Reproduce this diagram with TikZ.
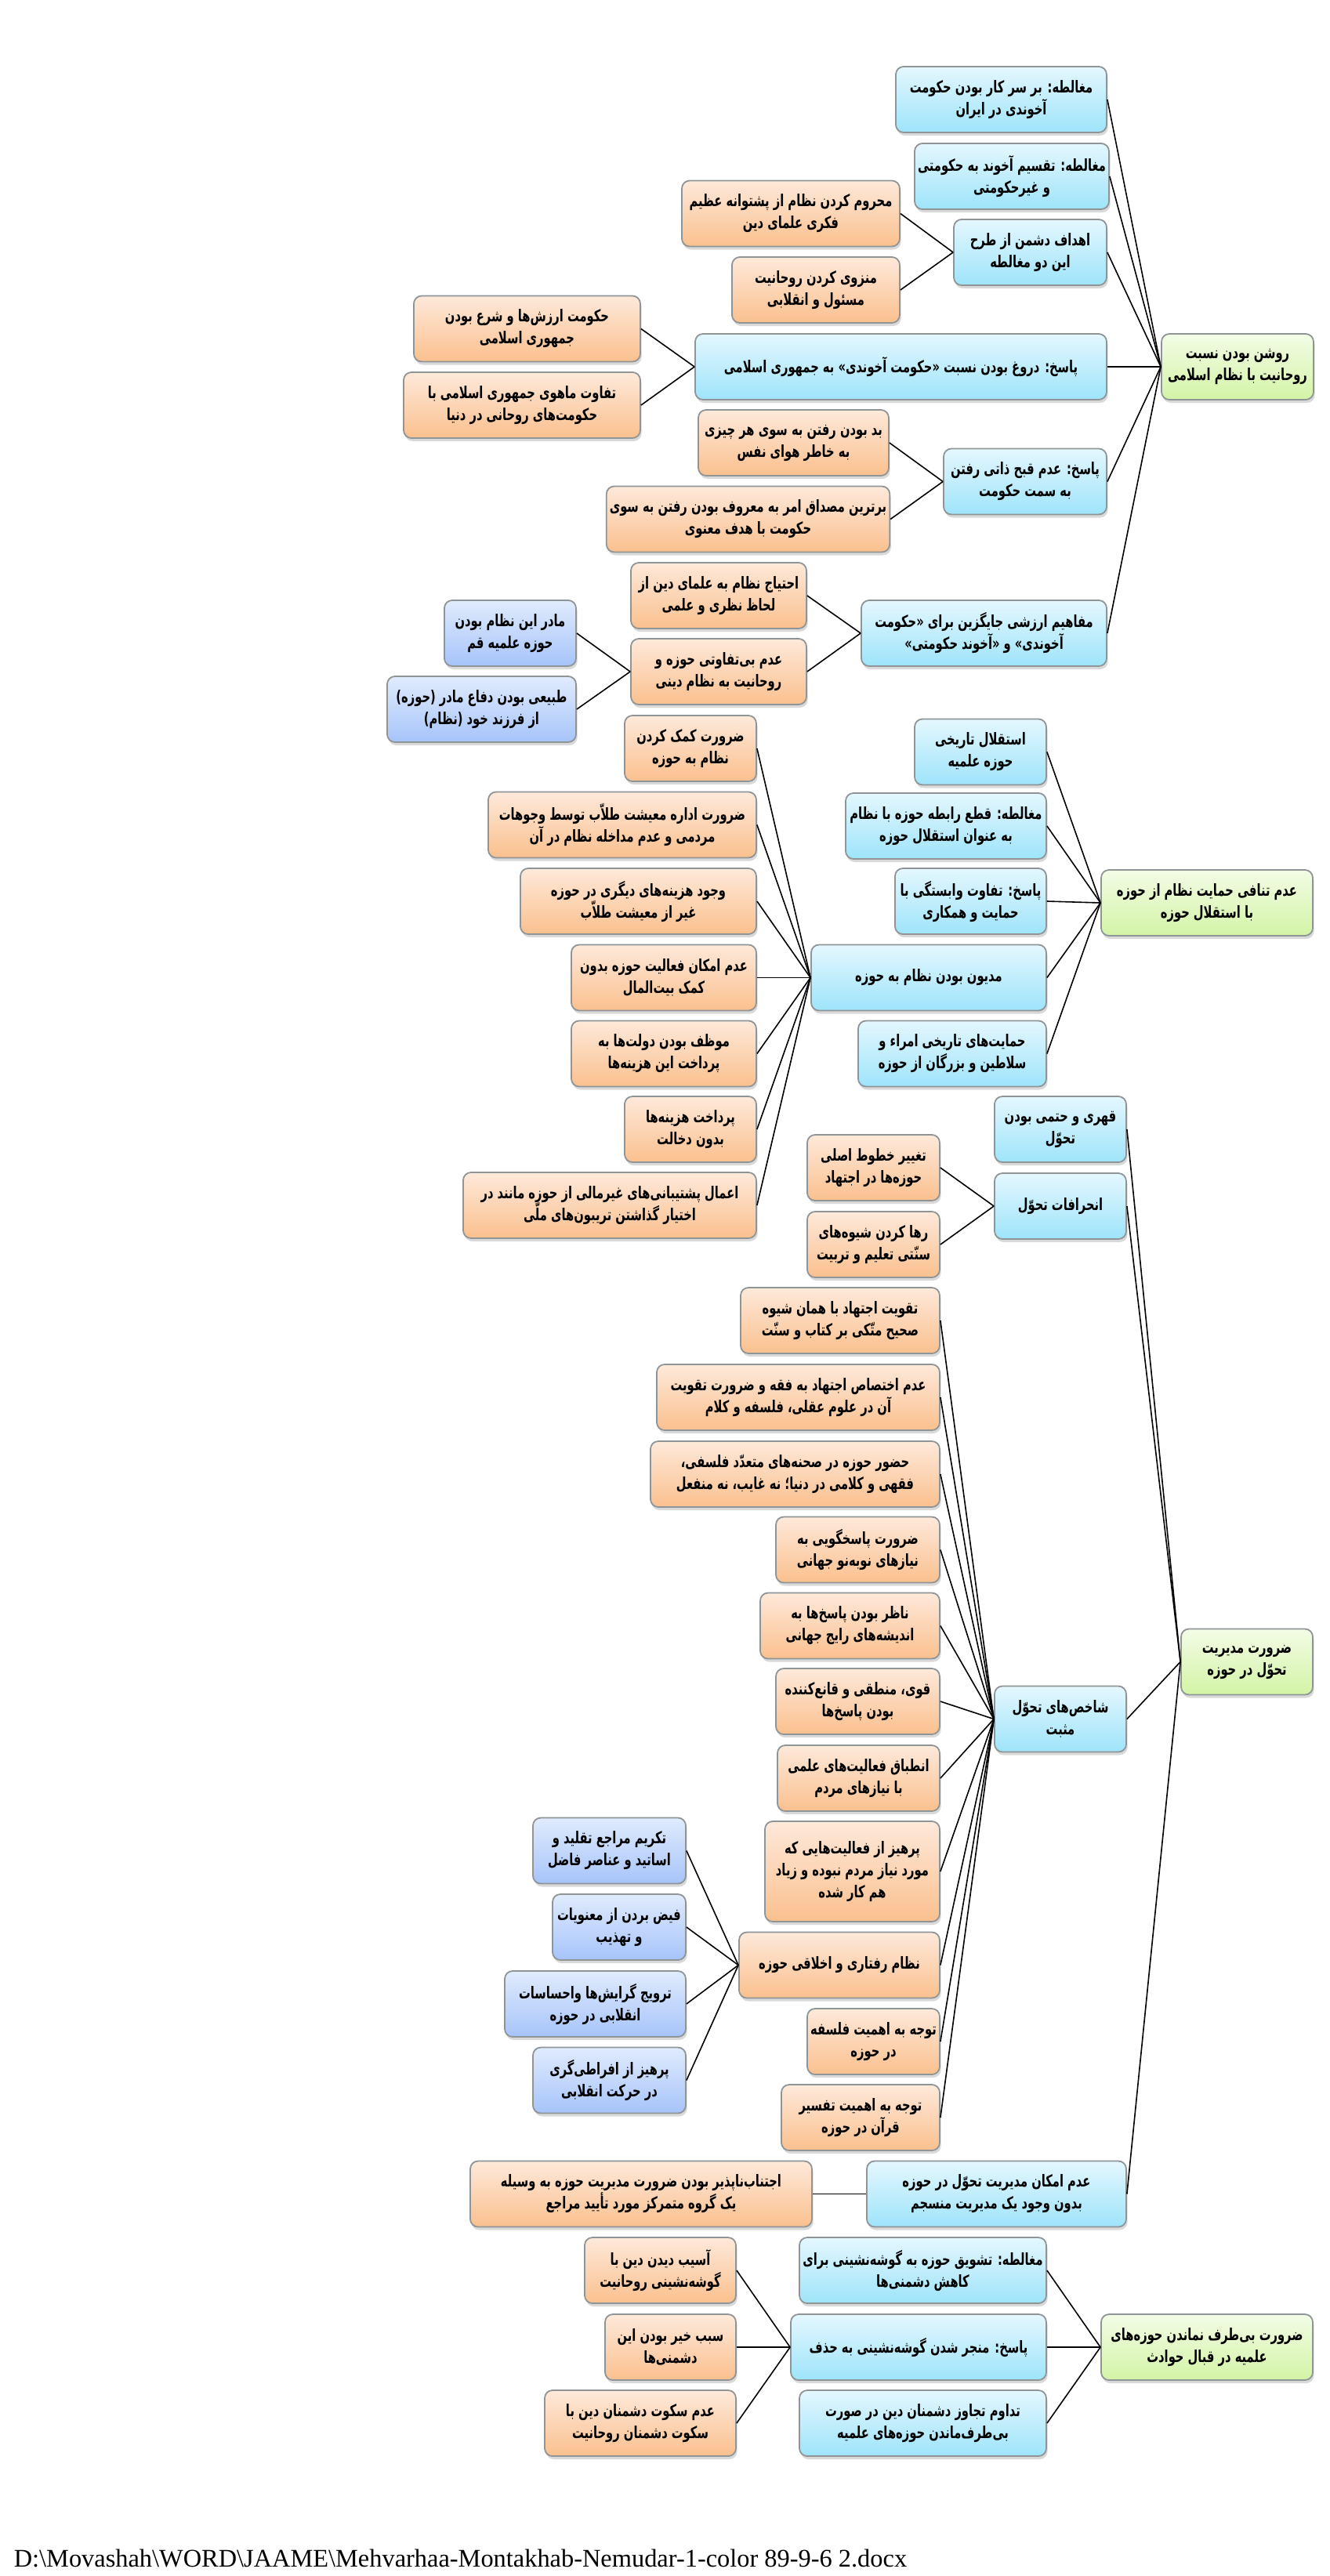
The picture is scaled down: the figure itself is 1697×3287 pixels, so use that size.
\documentclass[tikz,border=0pt]{standalone}
\usepackage{fontspec}
\setmainfont{Liberation Serif}
\newfontfamily\farsi[Script=Arabic,FakeStretch=0.7]{DejaVu Sans}
\TeXXeTstate=1
\usetikzlibrary{shadows}
\definecolor{cyantop}{HTML}{E4F7FE}
\definecolor{cyanbot}{HTML}{9EE4FA}
\definecolor{peachtop}{HTML}{FEE9DA}
\definecolor{peachbot}{HTML}{FAC08E}
\definecolor{limetop}{HTML}{F3FCE6}
\definecolor{limebot}{HTML}{D3F4A6}
\definecolor{lilactop}{HTML}{E0EBFD}
\definecolor{lilacbot}{HTML}{A6C4FA}
\definecolor{frame}{HTML}{8F9497}
\newcommand\fa[1]{\beginR#1\endR}

\begin{document}
\begin{tikzpicture}[x=0.5pt,y=-0.5pt,line width=0.8pt]
      \tikzstyle{box}=[draw=frame,line width=0.9pt,rounded corners=5pt,align=center,inner sep=2pt,minimum height=42pt,
        font=\farsi\bfseries\fontsize{10.5pt}{14pt}\selectfont,
        drop shadow={shadow xshift=0.8pt,shadow yshift=-2pt,opacity=0.3}]
      \tikzstyle{cyan box}=[box,top color=cyantop,bottom color=cyanbot]
      \tikzstyle{peach box}=[box,top color=peachtop,bottom color=peachbot]
      \tikzstyle{lime box}=[box,top color=limetop,bottom color=limebot]
      \tikzstyle{lilac box}=[box,top color=lilactop,bottom color=lilacbot]
      \tikzstyle{link}=[draw=black,line width=0.8pt]

      \useasboundingbox (0,0) rectangle (1697,3287);

      % First group: the clergy and the Islamic system
      \node[lime box,minimum width=97pt] (R-1) at (1579,468) {\fa{روشن بودن نسبت}\\\fa{روحانیت با نظام اسلامی}};
      \node[cyan box,minimum width=134.5pt] (A-1) at (1277.5,127) {\fa{مغالطه: بر سر کار بودن حکومت}\\\fa{آخوندی در ایران}};
      \node[cyan box,minimum width=121pt] (A-2) at (1291,225) {\fa{مغالطه: تقسیم آخوند به حکومتی}\\\fa{و غیرحکومتی}};
      \node[cyan box,minimum width=97.5pt] (A-3) at (1314.5,322) {\fa{اهداف دشمن از طرح}\\\fa{این دو مغالطه}};
      \node[cyan box,minimum width=262.5pt] (A-4) at (1149.5,468) {\fa{پاسخ: دروغ بودن نسبت «حکومت آخوندی» به جمهوری اسلامی}};
      \node[cyan box,minimum width=104pt] (A-5) at (1308,614.5) {\fa{پاسخ: عدم قبح ذاتی رفتن}\\\fa{به سمت حکومت}};
      \node[cyan box,minimum width=156.5pt] (A-6) at (1255.5,808) {\fa{مفاهیم ارزشی جایگزین برای «حکومت}\\\fa{آخوندی» و «آخوند حکومتی»}};
      \node[peach box,minimum width=139pt] (A-3-1) at (1009,272.5) {\fa{محروم کردن نظام از پشتوانه عظیم}\\\fa{فکری علمای دین}};
      \node[peach box,minimum width=107pt] (A-3-2) at (1041,370) {\fa{منزوی کردن روحانیت}\\\fa{مسئول و انقلابی}};
      \node[peach box,minimum width=144.5pt] (A-4-1) at (672.5,419.5) {\fa{حکومت ارزش‌ها و شرع بودن}\\\fa{جمهوری اسلامی}};
      \node[peach box,minimum width=151pt] (A-4-2) at (666,517) {\fa{تفاوت ماهوی جمهوری اسلامی با}\\\fa{حکومت‌های روحانی در دنیا}};
      \node[peach box,minimum width=121.5pt] (A-5-1) at (1012.5,565) {\fa{بد بودن رفتن به سوی هر چیزی}\\\fa{به خاطر هوای نفس}};
      \node[peach box,minimum width=179.5pt] (A-5-2) at (954.5,662.5) {\fa{برترین مصداق امر به معروف بودن رفتن به سوی}\\\fa{حکومت با هدف معنوی}};
      \node[peach box,minimum width=112pt] (A-6-1) at (917,760) {\fa{احتیاج نظام به علمای دین از}\\\fa{لحاظ نظری و علمی}};
      \node[peach box,minimum width=112pt] (A-6-2) at (917,857) {\fa{عدم بی‌تفاوتی حوزه و}\\\fa{روحانیت به نظام دینی}};
      \node[lilac box,minimum width=84pt] (A-6-2-1) at (651,808) {\fa{مادر این نظام بودن}\\\fa{حوزه علمیه قم}};
      \node[lilac box,minimum width=120.5pt] (A-6-2-2) at (614.5,905) {\fa{طبیعی بودن دفاع مادر (حوزه)}\\\fa{از فرزند خود (نظام)}};

      % Second group: support and independence
      \node[lime box,minimum width=135pt] (R-2) at (1540,1152) {\fa{عدم تنافی حمایت نظام از حوزه}\\\fa{با استقلال حوزه}};
      \node[cyan box,minimum width=84pt] (B-1) at (1251,959.5) {\fa{استقلال تاریخی}\\\fa{حوزه علمیه}};
      \node[cyan box,minimum width=128pt] (B-2) at (1207,1054) {\fa{مغالطه: قطع رابطه حوزه با نظام}\\\fa{به عنوان استقلال حوزه}};
      \node[cyan box,minimum width=96.5pt] (B-3) at (1238.5,1150) {\fa{پاسخ: تفاوت وابستگی با}\\\fa{حمایت و همکاری}};
      \node[cyan box,minimum width=150pt] (B-4) at (1185,1247.5) {\fa{مدیون بودن نظام به حوزه}};
      \node[cyan box,minimum width=120pt] (B-5) at (1215,1344.5) {\fa{حمایت‌های تاریخی امراء و}\\\fa{سلاطین و بزرگان از حوزه}};
      \node[peach box,minimum width=84pt] (B-4-1) at (881,955) {\fa{ضرورت کمک کردن}\\\fa{نظام به حوزه}};
      \node[peach box,minimum width=171pt] (B-4-2) at (794,1052.5) {\fa{ضرورت اداره معیشت طلاّب توسط وجوهات}\\\fa{مردمی و عدم مداخله نظام در آن}};
      \node[peach box,minimum width=150.5pt] (B-4-3) at (814.5,1150) {\fa{وجود هزینه‌های دیگری در حوزه}\\\fa{غیر از معیشت طلاّب}};
      \node[peach box,minimum width=118pt] (B-4-4) at (847,1247.5) {\fa{عدم امکان فعالیت حوزه بدون}\\\fa{کمک بیت‌المال}};
      \node[peach box,minimum width=118pt] (B-4-5) at (847,1344.5) {\fa{موظف بودن دولت‌ها به}\\\fa{پرداخت این هزینه‌ها}};
      \node[peach box,minimum width=84pt] (B-4-6) at (881,1441) {\fa{پرداخت هزینه‌ها}\\\fa{بدون دخالت}};
      \node[peach box,minimum width=187pt] (B-4-7) at (778,1538) {\fa{اعمال پشتیبانی‌های غیرمالی از حوزه مانند در}\\\fa{اختیار گذاشتن تریبون‌های ملّی}};

      % Third group: managing the change
      \node[lime box,minimum width=84pt] (R-3) at (1591,2120.5) {\fa{ضرورت مدیریت}\\\fa{تحوّل در حوزه}};
      \node[cyan box,minimum width=84pt] (C-1) at (1353,1441) {\fa{قهری و حتمی بودن}\\\fa{تحوّل}};
      \node[cyan box,minimum width=84pt] (C-2) at (1353,1539) {\fa{انحرافات تحوّل}};
      \node[cyan box,minimum width=84pt] (C-3) at (1353,2193.5) {\fa{شاخص‌های تحوّل}\\\fa{مثبت}};
      \node[cyan box,minimum width=165.5pt] (C-4) at (1271.5,2799.5) {\fa{عدم امکان مدیریت تحوّل در حوزه}\\\fa{بدون وجود یک مدیریت منسجم}};
      \node[peach box,minimum width=84.5pt] (C-2-1) at (1114.5,1490) {\fa{تغییر خطوط اصلی}\\\fa{حوزه‌ها در اجتهاد}};
      \node[peach box,minimum width=84.5pt] (C-2-2) at (1114.5,1588) {\fa{رها کردن شیوه‌های}\\\fa{سنّتی تعلیم و تربیت}};
      \node[peach box,minimum width=127pt] (C-3-1) at (1072,1685) {\fa{تقویت اجتهاد با همان شیوه}\\\fa{صحیح متّکی بر کتاب و سنّت}};
      \node[peach box,minimum width=180.5pt] (C-3-2) at (1018.5,1783) {\fa{عدم اختصاص اجتهاد به فقه و ضرورت تقویت}\\\fa{آن در علوم عقلی، فلسفه و کلام}};
      \node[peach box,minimum width=184.5pt] (C-3-3) at (1014.5,1881) {\fa{حضور حوزه در صحنه‌های متعدّد فلسفی،}\\\fa{فقهی و کلامی در دنیا؛ نه غایب، نه منفعل}};
      \node[peach box,minimum width=104.5pt] (C-3-4) at (1094.5,1977.5) {\fa{ضرورت پاسخگویی به}\\\fa{نیازهای نوبه‌نو جهانی}};
      \node[peach box,minimum width=114.5pt] (C-3-5) at (1084.5,2074.5) {\fa{ناظر بودن پاسخ‌ها به}\\\fa{اندیشه‌های رایج جهانی}};
      \node[peach box,minimum width=104.5pt] (C-3-6) at (1094.5,2171) {\fa{قوی، منطقی و قانع‌کننده}\\\fa{بودن پاسخ‌ها}};
      \node[peach box,minimum width=103.5pt] (C-3-7) at (1095.5,2269) {\fa{انطباق فعالیت‌های علمی}\\\fa{با نیازهای مردم}};
      \node[peach box,minimum width=111.5pt,minimum height=64pt] (C-3-8) at (1087.5,2388) {\fa{پرهیز از فعالیت‌هایی که}\\\fa{مورد نیاز مردم نبوده و زیاد}\\\fa{هم کار شده}};
      \node[peach box,minimum width=128pt] (C-3-9) at (1071,2507.5) {\fa{نظام رفتاری و اخلاقی حوزه}};
      \node[peach box,minimum width=84.5pt] (C-3-10) at (1114.5,2605) {\fa{توجه به اهمیت فلسفه}\\\fa{در حوزه}};
      \node[peach box,minimum width=101pt] (C-3-11) at (1098,2702) {\fa{توجه به اهمیت تفسیر}\\\fa{قرآن در حوزه}};
      \node[lilac box,minimum width=97.5pt] (C-3-9-1) at (777.5,2361.5) {\fa{تکریم مراجع تقلید و}\\\fa{اساتید و عناصر فاضل}};
      \node[lilac box,minimum width=85pt] (C-3-9-2) at (790,2459) {\fa{فیض بردن از معنویات}\\\fa{و تهذیب}};
      \node[lilac box,minimum width=115.5pt] (C-3-9-3) at (759.5,2557) {\fa{ترویج گرایش‌ها واحساسات}\\\fa{انقلابی در حوزه}};
      \node[lilac box,minimum width=97.5pt] (C-3-9-4) at (777.5,2654.5) {\fa{پرهیز از افراطی‌گری}\\\fa{در حرکت انقلابی}};
      \node[peach box,minimum width=218pt] (C-4-1) at (818,2799.5) {\fa{اجتناب‌ناپذیر بودن ضرورت مدیریت حوزه به وسیله}\\\fa{یک گروه متمرکز مورد تأیید مراجع}};

      % Fourth group: not staying neutral
      \node[lime box,minimum width=135pt] (R-4) at (1540,2995) {\fa{ضرورت بی‌طرف نماندن حوزه‌های}\\\fa{علمیه در قبال حوادث}};
      \node[cyan box,minimum width=157.5pt] (D-1) at (1177.5,2897) {\fa{مغالطه: تشویق حوزه به گوشه‌نشینی برای}\\\fa{کاهش دشمنی‌ها}};
      \node[cyan box,minimum width=163pt] (D-2) at (1172,2995) {\fa{پاسخ: منجر شدن گوشه‌نشینی به حذف}};
      \node[cyan box,minimum width=157.5pt] (D-3) at (1177.5,3092) {\fa{تداوم تجاوز دشمنان دین در صورت}\\\fa{بی‌طرف‌ماندن حوزه‌های علمیه}};
      \node[peach box,minimum width=96.5pt] (D-2-1) at (842.5,2897) {\fa{آسیب دیدن دین با}\\\fa{گوشه‌نشینی روحانیت}};
      \node[peach box,minimum width=83.5pt] (D-2-2) at (855.5,2995) {\fa{سبب خیر بودن این}\\\fa{دشمنی‌ها}};
      \node[peach box,minimum width=122pt] (D-2-3) at (817,3092) {\fa{عدم سکوت دشمنان دین با}\\\fa{سکوت دشمنان روحانیت}};

      % Connect every child with its parent
      \foreach \i in {1,...,6}
          \draw[link] (A-\i.east) -- (R-1.west);
      \foreach \p / \c in {3/1,3/2,4/1,4/2,5/1,5/2,6/1,6/2}
          \draw[link] (A-\p-\c.east) -- (A-\p.west);
      \foreach \c in {1,2}
          \draw[link] (A-6-2-\c.east) -- (A-6-2.west);

      \foreach \i in {1,...,5}
          \draw[link] (B-\i.east) -- (R-2.west);
      \foreach \c in {1,...,7}
          \draw[link] (B-4-\c.east) -- (B-4.west);

      \foreach \i in {1,...,4}
          \draw[link] (C-\i.east) -- (R-3.west);
      \foreach \c in {1,2}
          \draw[link] (C-2-\c.east) -- (C-2.west);
      \foreach \c in {1,...,11}
          \draw[link] (C-3-\c.east) -- (C-3.west);
      \foreach \c in {1,...,4}
          \draw[link] (C-3-9-\c.east) -- (C-3-9.west);
      \draw[link] (C-4-1.east) -- (C-4.west);

      \foreach \i in {1,2,3}
          \draw[link] (D-\i.east) -- (R-4.west);
      \foreach \c in {1,2,3}
          \draw[link] (D-2-\c.east) -- (D-2.west);

      % File path at the foot of the page
      \node[anchor=base west,inner sep=0pt,font=\fontsize{16.2pt}{19pt}\selectfont] (path) at (17,3275)
          {D:\textbackslash Movashah\textbackslash WORD\textbackslash JAAME\textbackslash Mehvarhaa-Montakhab-Nemudar-1-color 89-9-6 2.docx};
\end{tikzpicture}
\end{document}
